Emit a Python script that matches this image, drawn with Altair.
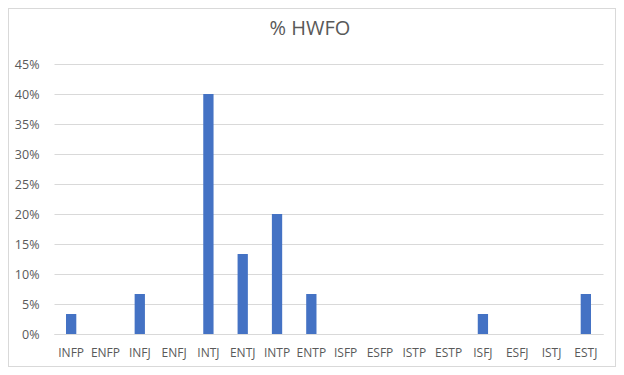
import altair as alt
import pandas as pd

title_text = ["% HWFO"]
types = ["INFP", "ENFP", "INFJ", "ENFJ", "INTJ", "ENTJ", "INTP", "ENTP",
         "ISFP", "ESFP", "ISTP", "ESTP", "ISFJ", "ESFJ", "ISTJ", "ESTJ"]
share = [0.0333, 0.0, 0.0667, 0.0, 0.40, 0.1333, 0.20, 0.0667,
         0.0, 0.0, 0.0, 0.0, 0.0333, 0.0, 0.0, 0.0667]
y_ticks = [0, 0.05, 0.10, 0.15, 0.20, 0.25, 0.30, 0.35, 0.40, 0.45]

df = pd.DataFrame({"type": types, "share": share})

W, H = 549, 270
PL, PT, PR, PB = 46, 56, 13, 33
FONT = "Open Sans"
TXT = "#595959"

bars = alt.Chart(df).mark_bar(color="#4472C4").encode(
    x=alt.X("type:N", sort=types,
            scale=alt.Scale(paddingInner=0.7, paddingOuter=0.35),
            axis=alt.Axis(title=None, labelAngle=0, ticks=False, domain=True,
                          domainColor="#d9d9d9", labelPadding=13,
                          labelFont=FONT, labelFontSize=12, labelColor=TXT)),
    y=alt.Y("share:Q",
            scale=alt.Scale(domain=[0, 0.45], nice=False),
            axis=alt.Axis(title=None, format=".0%", values=y_ticks, ticks=False,
                          domain=False, grid=True, gridColor="#d9d9d9",
                          labelPadding=15, labelFont=FONT, labelFontSize=12.5,
                          labelColor=TXT)),
)

border = alt.Chart(df).mark_rect(fill=None, stroke="#d9d9d9", strokeWidth=1, clip=False).encode(
    x=alt.value(-PL + 0.5), x2=alt.value(W + PR - 0.5),
    y=alt.value(-PT + 0.5), y2=alt.value(H + PB - 0.5),
)

title = alt.Chart(pd.DataFrame({"t": title_text})).mark_text(
    font=FONT, fontSize=20, color=TXT, align="center", baseline="middle", clip=False
).encode(text="t:N", x=alt.value(256), y=alt.value(-35))

chart = alt.layer(border, bars, title).properties(
    width=W, height=H,
    autosize=alt.AutoSizeParams(type="none"),
    padding={"left": PL, "top": PT, "right": PR, "bottom": PB},
).configure_view(stroke=None)

chart.save("out.html", embed_options={"renderer": "svg", "actions": False})
